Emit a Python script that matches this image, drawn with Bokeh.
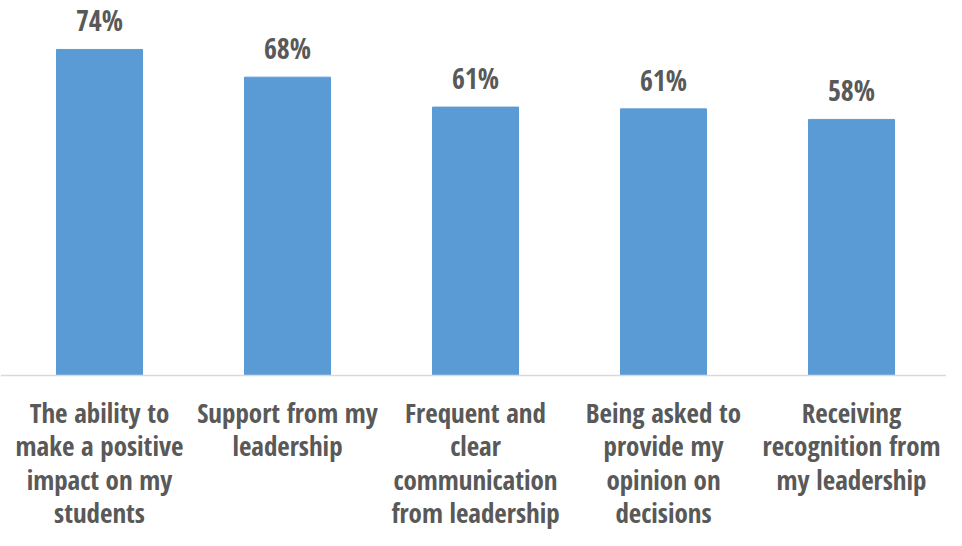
from bokeh.plotting import figure
from bokeh.models import Range1d, ColumnDataSource, LabelSet, Span
from bokeh.core.properties import value
from bokeh.embed import file_html
from bokeh.resources import INLINE

categories = [
    "The ability to\nmake a positive\nimpact on my\nstudents",
    "Support from my\nleadership",
    "Frequent and\nclear\ncommunication\nfrom leadership",
    "Being asked to\nprovide my\nopinion on\ndecisions",
    "Receiving\nrecognition from\nmy leadership",
]
values = [74.1, 67.8, 61.0, 60.6, 58.2]
value_labels = [f"{round(v)}%" for v in values]
positions = list(range(len(categories)))

FONT = value("Open Sans Condensed")
TEXT = "#595959"
W, H = 946, 530
BASE = 375          # baseline position from top of figure, px
SCALE = 4.4         # px per percentage point
STEP = 188          # px per category
X0 = 99             # px position of first category centre

p = figure(width=W, height=H, output_backend="svg", toolbar_location=None,
           x_range=Range1d(-X0 / STEP, (W - X0) / STEP),
           y_range=Range1d(-(H - BASE) / SCALE, BASE / SCALE),
           min_border_left=0, min_border_right=0, min_border_top=0, min_border_bottom=0)
p.xaxis.visible = False
p.yaxis.visible = False
p.xgrid.grid_line_color = None
p.ygrid.grid_line_color = None
p.outline_line_color = None

src = ColumnDataSource(dict(x=positions, top=values, lab=value_labels))
p.vbar(x="x", top="top", width=86 / STEP, source=src, color="#5B9BD5")

p.add_layout(Span(location=0, dimension="width", line_color="#D9D9D9", line_width=1.5))

p.add_layout(LabelSet(x="x", y="top", text="lab", source=src, text_align="center",
                      text_baseline="alphabetic", y_offset=18, text_font=FONT,
                      text_font_style="bold", text_font_size="28px", text_color=TEXT))

# category labels: one row per text line, centred under each bar
lx, ltext, loff = [], [], []
for i, cat in zip(positions, categories):
    for j, line in enumerate(cat.split("\n")):
        lx.append(i)
        ltext.append(line)
        loff.append(-(47 + 33.5 * j))
cat_src = ColumnDataSource(dict(x=lx, y=[0] * len(lx), text=ltext, off=loff))
p.add_layout(LabelSet(x="x", y="y", text="text", source=cat_src, y_offset="off",
                      text_align="center", text_baseline="alphabetic", text_font=FONT,
                      text_font_style="bold", text_font_size="27px", text_color=TEXT))

open("out.html", "w").write(file_html(p, INLINE))
